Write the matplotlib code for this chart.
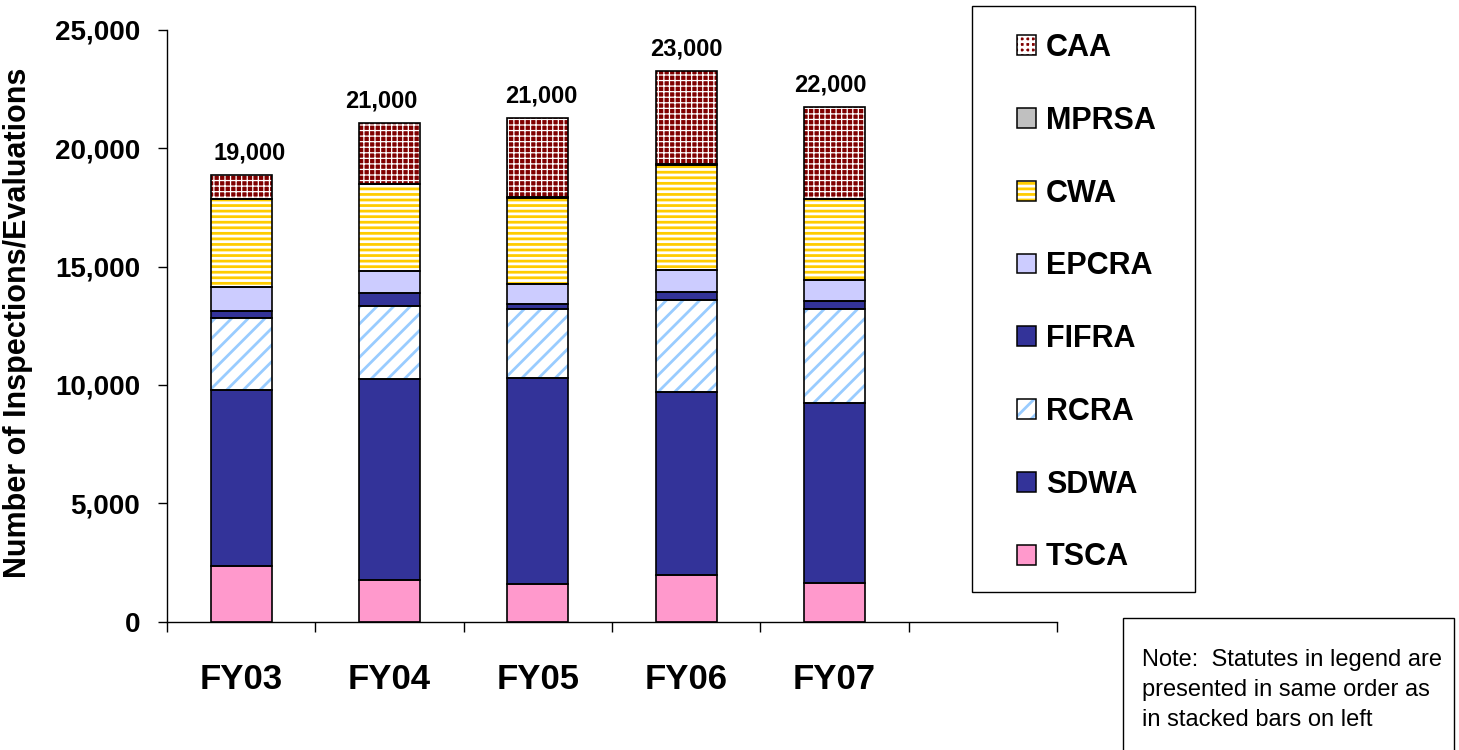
import matplotlib
matplotlib.use("Agg")
import matplotlib.pyplot as plt
import numpy as np
from matplotlib.patches import Patch, Rectangle
from matplotlib.legend_handler import HandlerTuple

plt.rcParams['font.family'] = ['Liberation Sans', 'DejaVu Sans']
plt.rcParams['hatch.linewidth'] = 2.0

# ---- data ----
years = ["FY03", "FY04", "FY05", "FY06", "FY07"]
tsca = [2370, 1770, 1580, 1960, 1650]
sdwa = [7400, 8470, 8730, 7740, 7600]
rcra = [3040, 3100, 2890, 3910, 3960]
fifra = [330, 530, 210, 330, 340]
epcra = [990, 950, 860, 920, 870]
cwa = [3720, 3670, 3650, 4450, 3430]
mprsa = [20, 20, 20, 20, 20]
caa = [1020, 2570, 3330, 3930, 3870]

series_names = ["TSCA", "SDWA", "RCRA", "FIFRA", "EPCRA", "CWA", "MPRSA", "CAA"]
series_vals = [tsca, sdwa, rcra, fifra, epcra, cwa, mprsa, caa]
# (facecolor, hatch, hatchcolor, hatch linewidth)
styles = {
    "TSCA": ("#FF99CC", None, "black", None),
    "SDWA": ("#333399", None, "black", None),
    "RCRA": ("white", "//", "#99CCFF", 2.0),
    "FIFRA": ("#333399", None, "black", None),
    "EPCRA": ("#CCCCFF", None, "black", None),
    "CWA": ("#FFCC00", "---", "white", 2.0),
    "MPRSA": ("#C0C0C0", None, "black", None),
    "CAA": ("#800000", "+++", "white", 0.9),
}
label_dx_px = [8, -8, 3, 0, -4.5]  # small horizontal nudges of total labels

W, H = 1459, 750
fig = plt.figure(figsize=(W / 100, H / 100), dpi=100)
ax = fig.add_axes([167 / W, (H - 621.6) / H, (1057 - 167) / W, (621.6 - 30) / H])


def set_hlw(p, lw):
    if lw is not None and hasattr(p, "set_hatch_linewidth"):
        p.set_hatch_linewidth(lw)


x = np.arange(len(years))
bw = 0.41
bottom = np.zeros(len(years))
handles = {}
for name, vals in zip(series_names, series_vals):
    fc, hatch, hc, hlw = styles[name]
    vals = np.array(vals, dtype=float)
    with plt.rc_context({"hatch.linewidth": hlw if hlw else 2.0}):
        if hatch:
            bars = ax.bar(x, vals, bw, bottom=bottom, color=fc, edgecolor=hc, hatch=hatch, linewidth=0, zorder=2)
            h1 = Patch(facecolor=fc, edgecolor=hc, hatch=hatch, linewidth=0)
        else:
            bars = ax.bar(x, vals, bw, bottom=bottom, color=fc, linewidth=0, zorder=2)
            h1 = Patch(facecolor=fc, linewidth=0)
    for p in bars:
        set_hlw(p, hlw)
    set_hlw(h1, hlw)
    ax.bar(x, vals, bw, bottom=bottom, fill=False, edgecolor="black", linewidth=1.2, zorder=3)
    h2 = Patch(fill=False, edgecolor="black", linewidth=1.1)
    handles[name] = (h1, h2)
    bottom = bottom + vals

totals = bottom
for xi, t, dx in zip(x, totals, label_dx_px):
    ax.annotate(f"{round(t, -3):,.0f}", xy=(xi, t), xytext=(dx * 0.72, 11), textcoords="offset points",
                ha="center", va="baseline", fontsize=17, fontweight="bold")

ax.set_xlim(-0.5, 5.5)
ax.set_ylim(0, 25000)
ax.set_yticks(np.arange(0, 25001, 5000))
ax.set_yticklabels([f"{v:,}" for v in range(0, 25001, 5000)], fontsize=20, fontweight="bold")
ax.tick_params(axis="y", direction="out", length=6.5, width=1, pad=13)
ax.set_xticks(x)
ax.set_xticklabels(years, fontsize=25, fontweight="bold")
ax.set_xticks(np.arange(-0.5, 5.6, 1), minor=True)
ax.tick_params(axis="x", which="major", length=0, pad=30)
ax.tick_params(axis="x", which="minor", direction="out", length=7, width=1)
for s in ["top", "right"]:
    ax.spines[s].set_visible(False)
for s in ["left", "bottom"]:
    ax.spines[s].set_linewidth(1)
ax.set_ylabel("Number of Inspections/Evaluations", fontsize=22, fontweight="bold", va="center")
ax.yaxis.set_label_coords((18 - 167) / 890, 0.505)

# legend frame
fig.patches.append(Rectangle((972 / W, 1 - 592 / H), 223 / W, 586 / H, transform=fig.transFigure,
                             fill=False, edgecolor="black", linewidth=1, zorder=1))
order = series_names[::-1]
leg = fig.legend([handles[n] for n in order], order, loc="upper left",
                 bbox_to_anchor=(1017 / W, 1 - 33 / H), bbox_transform=fig.transFigure,
                 frameon=False, borderpad=0, borderaxespad=0, handlelength=0.62, handleheight=0.62,
                 handletextpad=0.33, labelspacing=1.40,
                 prop={"size": 22, "weight": "bold"},
                 handler_map={tuple: HandlerTuple(ndivide=1, pad=0)})

# note box
fig.patches.append(Rectangle((1123 / W, -0.05), 331 / W, (1 - 618 / H) + 0.05, transform=fig.transFigure,
                             fill=False, edgecolor="black", linewidth=1, zorder=1))
fig.text(1142 / W, 1 - 649 / H, "Note:  Statutes in legend are\npresented in same order as\nin stacked bars on left",
         fontsize=17, ha="left", va="top", linespacing=1.46)

fig.savefig("out.png", dpi=100)
